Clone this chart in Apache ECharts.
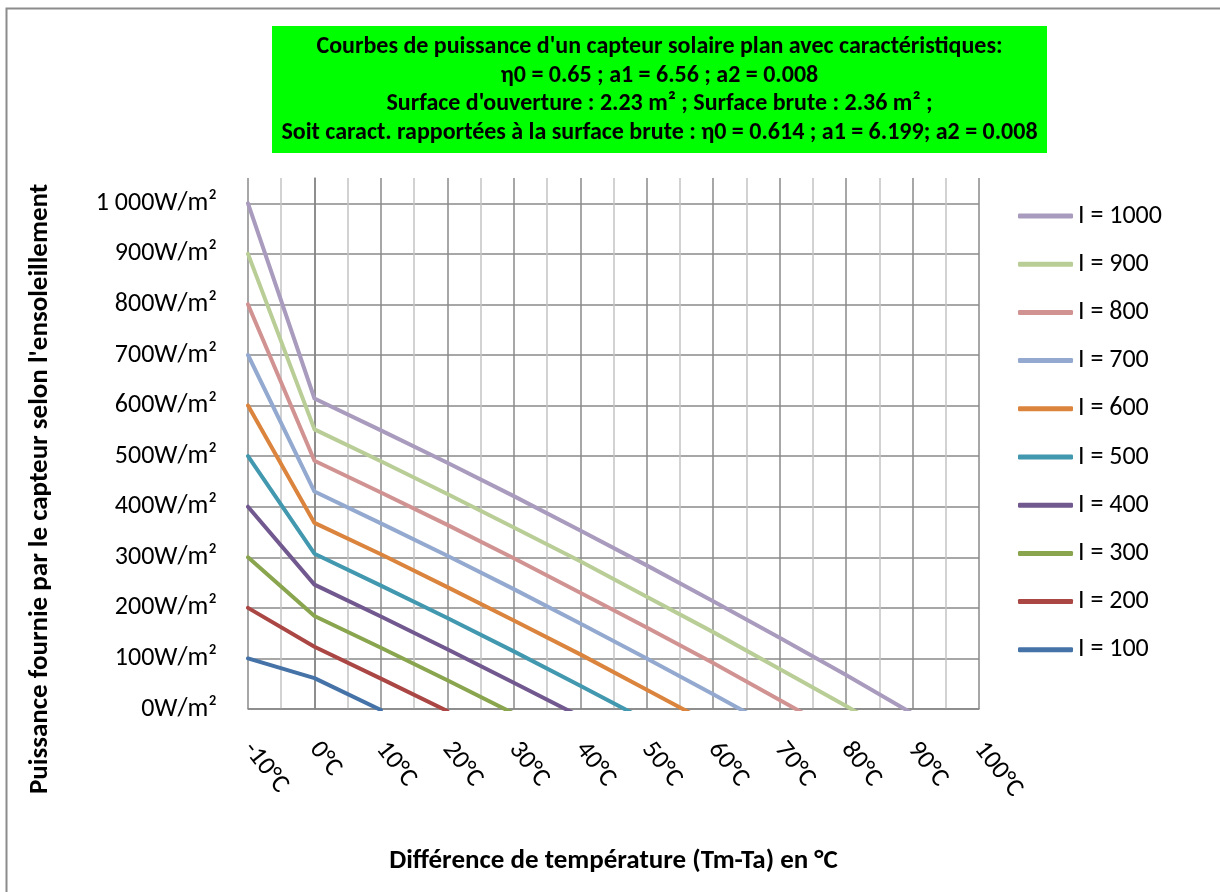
<!DOCTYPE html>
<html>
<head>
<meta charset="utf-8">
<script src="https://cdn.jsdelivr.net/npm/echarts@6/dist/echarts.min.js"></script>
<style>
html,body{margin:0;padding:0;background:#fff;}
#chart{width:1220px;height:892px;}
</style>
</head>
<body>
<div id="chart"></div>
<script>
// Temperature difference (Tm-Ta) in °C
const xs = [-10, 0, 10, 20, 30, 40, 50, 60, 70, 80, 90];
// Power supplied (W/m²) per irradiance level (last value below 0 is clipped at the axis)
const i1000 = [1000, 614, 551, 487, 421, 353, 284, 213, 141, 67, -9];
const i900  = [900, 553, 490, 425, 359, 292, 222, 152, 79, 6, -70];
const i800  = [800, 491, 428, 364, 298, 230, 161, 91, 18, -56];
const i700  = [700, 430, 367, 303, 237, 169, 100, 29, -43];
const i600  = [600, 368, 306, 241, 175, 108, 38, -32];
const i500  = [500, 307, 244, 180, 114, 46, -23];
const i400  = [400, 246, 183, 118, 52, -15];
const i300  = [300, 184, 121, 57, -9];
const i200  = [200, 123, 60, -4];
const i100  = [100, 61, -2];

const seriesNames = ['I = 1000','I = 900','I = 800','I = 700','I = 600','I = 500','I = 400','I = 300','I = 200','I = 100'];
const seriesValues = [i1000, i900, i800, i700, i600, i500, i400, i300, i200, i100];
const seriesColors = ['#A99BBD','#B9CD96','#D19392','#93A9CF','#DB843D','#4198AF','#71588F','#89A54E','#AA4643','#4572A7'];

const titleLines = [
  "Courbes de puissance d'un capteur solaire plan avec caractéristiques:",
  "η0 = 0.65 ; a1 = 6.56 ; a2 = 0.008",
  "Surface d'ouverture : 2.23 m² ; Surface brute : 2.36 m² ;",
  "Soit caract. rapportées à la surface brute : η0 = 0.614 ; a1 = 6.199; a2 = 0.008"
];
const xName = "Différence de température (Tm-Ta) en °C";
const yName = "Puissance fournie par le capteur selon l'ensoleillement";

const FONT = 'Carlito, Lato, sans-serif';
const chart = echarts.init(document.getElementById('chart'), null, {renderer: 'canvas'});

const series = seriesNames.map((name, k) => ({
  name: name,
  type: 'line',
  data: seriesValues[k].map((v, j) => [xs[j], v]),
  showSymbol: false,
  symbol: 'none',
  clip: true,
  lineStyle: {width: 4, color: seriesColors[k], cap: 'round', join: 'round'},
  itemStyle: {color: seriesColors[k]},
  z: 3 + (9 - k),
  animation: false
}));

const option = {
  animation: false,
  backgroundColor: '#ffffff',
  textStyle: {fontFamily: FONT},
  grid: {left: 248, right: 241, top: 178, bottom: 183, containLabel: false},
  xAxis: {
    type: 'value',
    min: -10, max: 100, interval: 10,
    name: xName,
    nameLocation: 'middle',
    nameGap: 139,
    nameTextStyle: {fontFamily: FONT, fontWeight: 'bold', fontSize: 27, color: '#000'},
    axisLine: {show: true, onZero: false, lineStyle: {color: '#868686', width: 1.5}},
    axisTick: {show: false},
    axisLabel: {
      rotate: -52, margin: 36, fontSize: 26, color: '#000', fontFamily: FONT,
      formatter: v => v + '°C'
    },
    splitLine: {show: true, lineStyle: {color: '#8a8a8a', width: 1.5}},
    minorTick: {show: false, splitNumber: 2},
    minorSplitLine: {show: true, lineStyle: {color: '#c4c4c4', width: 1.5}}
  },
  yAxis: {
    type: 'value',
    min: 0, max: 1050, interval: 100,
    axisLine: {show: true, lineStyle: {color: '#868686', width: 1.5}},
    axisTick: {show: false},
    axisLabel: {
      margin: 31, fontSize: 26, color: '#000', fontFamily: FONT,
      formatter: v => {
        if (v > 1000) return '';
        const s = v >= 1000 ? Math.floor(v/1000) + ' ' + String(v % 1000).padStart(3, '0') : String(v);
        return s + 'W/m²';
      }
    },
    splitLine: {show: true, showMaxLine: false, lineStyle: {color: '#8a8a8a', width: 1.5}}
  },
  legend: {
    orient: 'vertical',
    left: 1013,
    top: 197,
    padding: 5,
    data: seriesNames,
    icon: 'roundRect',
    itemWidth: 55,
    itemHeight: 5,
    itemGap: 20.2,
    textStyle: {fontSize: 26, lineHeight: 28, color: '#000', fontFamily: FONT}
  },
  graphic: [
    {
      type: 'rect', z: 0, silent: true,
      shape: {x: 6.5, y: 8.5, width: 1400, height: 1100},
      style: {fill: 'none', stroke: '#8c8c8c', lineWidth: 2}
    },
    {
      type: 'rect', z: 1, silent: true,
      shape: {x: 272, y: 26, width: 775, height: 127},
      style: {fill: '#00FF00'}
    },
    {
      type: 'text', z: 2, silent: true,
      x: 659.5, y: 90,
      style: {
        text: titleLines.join('\n'),
        font: 'bold 24px ' + FONT,
        fill: '#000',
        align: 'center',
        verticalAlign: 'middle',
        lineHeight: 28.5
      }
    },
    {
      type: 'text', z: 2, silent: true,
      x: 40, y: 489,
      rotation: Math.PI / 2,
      style: {
        text: yName,
        font: 'bold 27px ' + FONT,
        fill: '#000',
        align: 'center',
        verticalAlign: 'middle'
      }
    }
  ],
  series: series
};
chart.setOption(option);
</script>
</body>
</html>
